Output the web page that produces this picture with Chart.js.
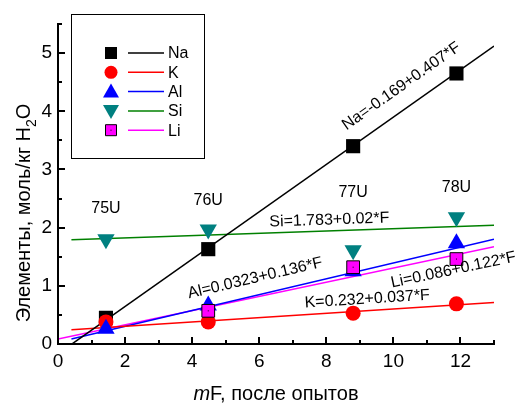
<!DOCTYPE html>
<html>
<head>
<meta charset="utf-8">
<script src="https://cdn.jsdelivr.net/npm/chart.js@4.4.1/dist/chart.umd.min.js"></script>
<style>
  html, body { margin: 0; padding: 0; background: #fff; }
  #wrap { width: 517px; height: 406px; }
</style>
</head>
<body>
<div id="wrap"><canvas id="chart" width="517" height="406"></canvas></div>
<script>
// --- data ---
const runX      = [1.43, 4.48, 8.8, 11.88];
const runLabels = ['75U', '76U', '77U', '78U'];
const runLabelY = [2.33, 2.47, 2.61, 2.69];

const naVals = [0.45, 1.63, 3.40, 4.65];
const kVals  = [0.38, 0.38, 0.53, 0.69];
const alVals = [0.26, 0.66, 1.25, 1.73];
const siVals = [1.80, 1.97, 1.61, 2.18];
const liVals = [null, 0.57, 1.32, 1.46];

// fitted lines y = a + b*F, as printed on the chart
const elements  = ['Na', 'K', 'Al', 'Si', 'Li'];
const fitA      = [-0.169, 0.232, 0.0323, 1.783, 0.086];
const fitB      = [0.407, 0.037, 0.136, 0.02, 0.122];
const fitFrom   = [0.42, 0.4, 0.4, 0.4, 0];
const fitTo     = [13, 13, 13, 13, 13];
const fitText   = ['Na=-0.169+0.407*F', 'K=0.232+0.037*F', 'Al=0.0323+0.136*F', 'Si=1.783+0.02*F', 'Li=0.086+0.122*F'];
const fitTextX  = [10.24, 9.22, 5.88, 8.09, 11.79];
const fitTextY  = [4.43, 0.77, 1.13, 2.13, 1.27];

const FONT = '"Liberation Sans", Arial, sans-serif';
const markerColor = ['#000000', '#ff0000', '#0000ff', '#008080', '#ff00ff'];
const lineColor   = ['#000000', '#ff0000', '#0000ff', '#008000', '#ff00ff'];
const markerStyle = ['rect', 'circle', 'triangle', 'triangle', 'rect'];
const markerRot   = [0, 0, 0, 180, 0];
const markerRad   = [10, 7.5, 10, 10, 9];
const markerOrder = [5, 3, 2, 4, 1];
const seriesVals  = [naVals, kVals, alVals, siVals, liVals];

// 1) datasets: fit lines first, then points
const datasets = [];
elements.forEach((el, i) => {
  datasets.push({
    type: 'line',
    label: el + ' fit',
    data: [
      { x: fitFrom[i], y: fitA[i] + fitB[i] * fitFrom[i] },
      { x: fitTo[i],   y: fitA[i] + fitB[i] * fitTo[i] }
    ],
    borderColor: lineColor[i],
    borderWidth: 1.5,
    pointRadius: 0,
    fill: false,
    order: 10
  });
});
elements.forEach((el, i) => {
  datasets.push({
    type: 'scatter',
    label: el,
    data: runX.map((x, j) => ({ x, y: seriesVals[i][j] })),
    pointStyle: markerStyle[i],
    rotation: markerRot[i],
    pointRadius: markerRad[i],
    backgroundColor: markerColor[i],
    borderColor: el === 'Li' ? '#000' : markerColor[i],
    borderWidth: el === 'Li' ? 1 : 0,
    order: markerOrder[i]
  });
});

// 2) marker drawing for the legend box
function drawMarker(ctx, i, x, y) {
  ctx.save();
  ctx.fillStyle = markerColor[i];
  ctx.beginPath();
  if (i === 0) { ctx.rect(x - 6, y - 6, 12, 12); ctx.fill(); }
  else if (i === 1) { ctx.arc(x, y, 6.5, 0, Math.PI * 2); ctx.fill(); }
  else if (i === 2) { ctx.moveTo(x, y - 8); ctx.lineTo(x + 8, y + 6); ctx.lineTo(x - 8, y + 6); ctx.closePath(); ctx.fill(); }
  else if (i === 3) { ctx.moveTo(x - 8, y - 6); ctx.lineTo(x + 8, y - 6); ctx.lineTo(x, y + 8); ctx.closePath(); ctx.fill(); }
  else {
    ctx.rect(x - 5.5, y - 5.5, 11, 11); ctx.fill();
    ctx.strokeStyle = '#000'; ctx.lineWidth = 1; ctx.stroke();
    ctx.fillStyle = '#000'; ctx.fillRect(x - 0.5, y - 0.5, 1, 1);
  }
  ctx.restore();
}

// 3) plugin: inward ticks, texts, legend, axis titles
const decorPlugin = {
  id: 'decor',
  afterDraw(chart) {
    const ctx = chart.ctx;
    const xs = chart.scales.x, ys = chart.scales.y;
    const area = chart.chartArea;
    ctx.save();

    // inward ticks
    ctx.strokeStyle = '#000';
    ctx.lineWidth = 2;
    xs.ticks.forEach(t => {
      const px = Math.round(xs.getPixelForValue(t.value));
      const len = t.value % 2 === 0 ? 7 : 4;
      ctx.beginPath(); ctx.moveTo(px, area.bottom); ctx.lineTo(px, area.bottom - len); ctx.stroke();
    });
    ys.ticks.forEach(t => {
      const py = Math.round(ys.getPixelForValue(t.value));
      const len = Number.isInteger(t.value) ? 7 : 4;
      ctx.beginPath(); ctx.moveTo(area.left, py); ctx.lineTo(area.left + len, py); ctx.stroke();
    });

    // Li centre dots
    ctx.fillStyle = '#000';
    liVals.forEach((v, j) => {
      if (v === null) return;
      ctx.fillRect(xs.getPixelForValue(runX[j]) - 0.5, ys.getPixelForValue(v) - 0.5, 1, 1);
    });

    // run labels
    ctx.fillStyle = '#000';
    ctx.font = '16px ' + FONT;
    ctx.textAlign = 'center';
    ctx.textBaseline = 'middle';
    runLabels.forEach((lab, j) => {
      ctx.fillText(lab, xs.getPixelForValue(runX[j]), ys.getPixelForValue(runLabelY[j]));
    });

    // fit equations, rotated along their lines
    elements.forEach((el, i) => {
      const x0 = xs.getPixelForValue(0), x1 = xs.getPixelForValue(10);
      const y0 = ys.getPixelForValue(fitA[i]), y1 = ys.getPixelForValue(fitA[i] + fitB[i] * 10);
      const ang = Math.atan2(y1 - y0, x1 - x0);
      ctx.save();
      ctx.translate(xs.getPixelForValue(fitTextX[i]), ys.getPixelForValue(fitTextY[i]));
      ctx.rotate(ang);
      ctx.fillText(fitText[i], 0, 0);
      ctx.restore();
    });

    // legend box
    ctx.lineWidth = 1;
    ctx.strokeRect(71.5, 14.5, 133, 144);
    ctx.textAlign = 'left';
    ctx.font = '16px ' + FONT;
    elements.forEach((el, i) => {
      const ly = 53 + i * 19.3;
      drawMarker(ctx, i, 111, ly);
      ctx.strokeStyle = lineColor[i];
      ctx.lineWidth = 1.5;
      ctx.beginPath(); ctx.moveTo(128, ly); ctx.lineTo(164, ly); ctx.stroke();
      ctx.fillStyle = '#000';
      ctx.fillText(el, 168, ly + 1);
    });

    // x axis title with italic m
    ctx.textBaseline = 'alphabetic';
    ctx.font = 'italic 20px ' + FONT;
    const mW = ctx.measureText('m').width;
    ctx.font = '20px ' + FONT;
    const restX = 'F, после опытов';
    const rW = ctx.measureText(restX).width;
    let sx = 276 - (mW + rW) / 2;
    ctx.font = 'italic 20px ' + FONT;
    ctx.fillText('m', sx, 400);
    ctx.font = '20px ' + FONT;
    ctx.fillText(restX, sx + mW, 400);

    // y axis title with subscript
    ctx.save();
    ctx.translate(30, 213);
    ctx.rotate(-Math.PI / 2);
    const part1 = 'Элементы, моль/кг H';
    ctx.font = '20px ' + FONT;
    const w1 = ctx.measureText(part1).width;
    ctx.font = '14px ' + FONT;
    const w2 = ctx.measureText('2').width;
    ctx.font = '20px ' + FONT;
    const w3 = ctx.measureText('O').width;
    let tx = -(w1 + w2 + w3) / 2;
    ctx.fillText(part1, tx, 0);
    ctx.font = '14px ' + FONT;
    ctx.fillText('2', tx + w1, 6);
    ctx.font = '20px ' + FONT;
    ctx.fillText('O', tx + w1 + w2, 0);
    ctx.restore();

    ctx.restore();
  }
};

// 4) chart
new Chart(document.getElementById('chart').getContext('2d'), {
  type: 'scatter',
  data: { datasets },
  options: {
    responsive: false,
    animation: false,
    events: [],
    layout: { padding: { top: 24, right: 23, left: 0, bottom: 0 } },
    plugins: { legend: { display: false }, tooltip: { enabled: false } },
    scales: {
      x: {
        type: 'linear', min: 0, max: 13,
        grid: { display: false, drawTicks: false },
        border: { display: true, color: '#000', width: 2 },
        ticks: {
          stepSize: 1, autoSkip: false, maxRotation: 0, padding: 6, color: '#000',
          font: { family: FONT, size: 19 },
          callback: v => (v % 2 === 0 ? String(v) : '')
        },
        afterFit: s => { s.height = 62; }
      },
      y: {
        type: 'linear', min: 0, max: 5.5,
        grid: { display: false, drawTicks: false },
        border: { display: true, color: '#000', width: 2 },
        ticks: {
          stepSize: 0.5, autoSkip: false, padding: 6, color: '#000',
          font: { family: FONT, size: 19 },
          callback: v => (Number.isInteger(v) ? String(v) : '')
        },
        afterFit: s => { s.width = 58; }
      }
    }
  },
  plugins: [decorPlugin]
});
</script>
</body>
</html>
